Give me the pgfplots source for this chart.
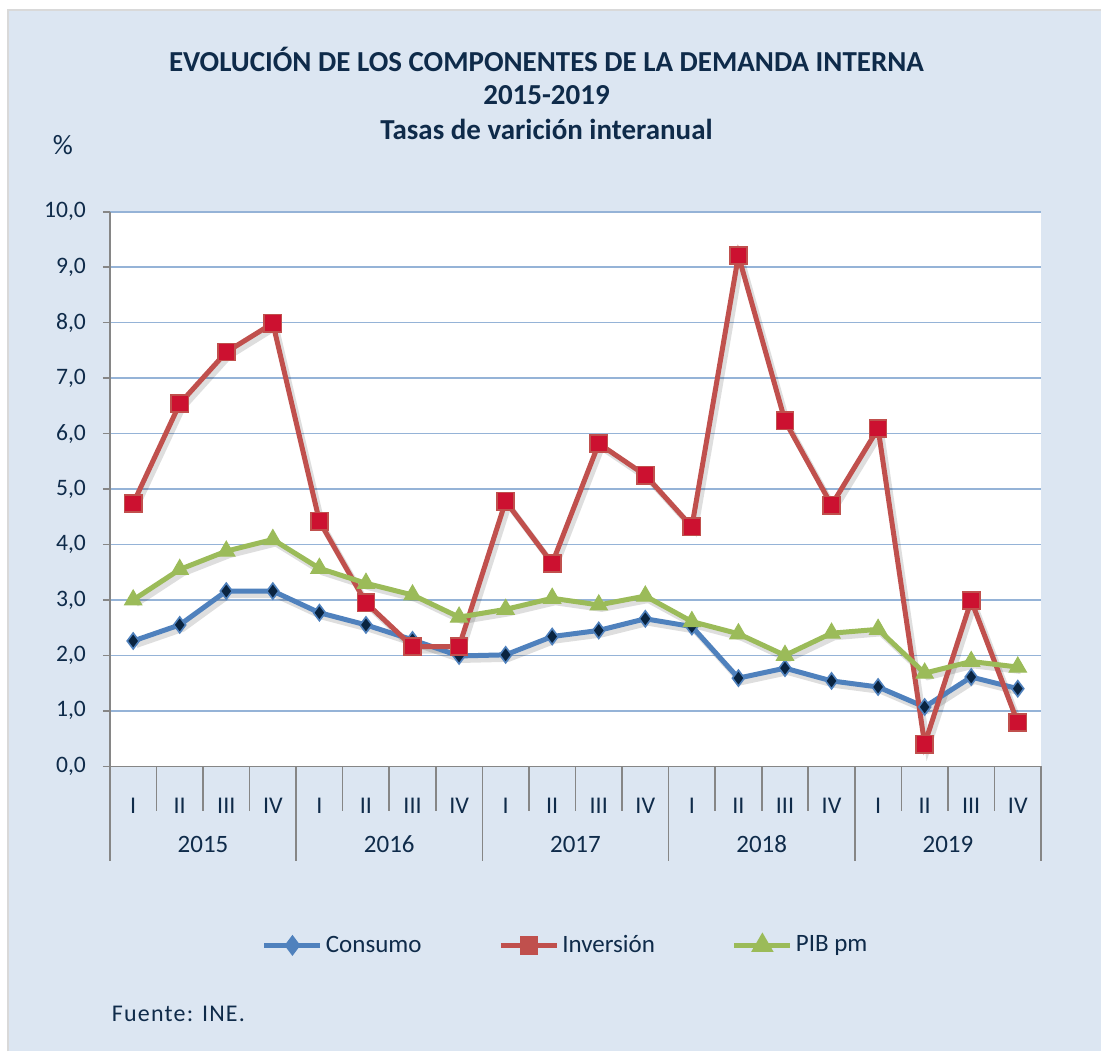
\documentclass[border=0pt]{standalone}
\usepackage{pgfplots}
\pgfplotsset{compat=1.18}
\usepackage{pgfplotstable}
\usepackage{fontspec}
\setmainfont{Carlito}
\definecolor{bgc}{HTML}{DCE6F2}
\definecolor{gridc}{HTML}{95B3D7}
\definecolor{txt}{HTML}{0F2B4A}
\definecolor{axg}{HTML}{868686}
\definecolor{bordc}{HTML}{D9D9D9}
\definecolor{consl}{HTML}{4F81BD}
\definecolor{consm}{HTML}{0A2440}
\definecolor{invl}{HTML}{C0504D}
\definecolor{invm}{HTML}{CC1130}
\definecolor{pibl}{HTML}{9BBB59}

\pgfplotstableread{
x cons inv pib
0  2.26 4.74 3.00
1  2.55 6.54 3.55
2  3.16 7.47 3.88
3  3.16 7.99 4.09
4  2.77 4.42 3.57
5  2.55 2.95 3.30
6  2.28 2.16 3.09
7  1.99 2.16 2.69
8  2.01 4.78 2.83
9  2.34 3.66 3.03
10 2.45 5.82 2.91
11 2.66 5.25 3.07
12 2.52 4.32 2.61
13 1.59 9.21 2.39
14 1.77 6.23 2.00
15 1.54 4.71 2.40
16 1.43 6.09 2.47
17 1.07 0.40 1.68
18 1.61 2.99 1.89
19 1.40 0.79 1.79
}\datatable

\begin{document}
\begin{tikzpicture}
% page and background
\fill[white] (-55pt,-142.5pt) rectangle (496pt,383.5pt);
\fill[bgc] (-51pt,-142.5pt) rectangle (496pt,378.5pt);
\draw[bordc, line width=1pt] (-51pt,-142.5pt) -- (-51pt,378.5pt) -- (496pt,378.5pt);
% titles
\node[txt, font=\fontsize{14.5}{16}\selectfont\bfseries] at (218.5pt,353.5pt) {EVOLUCIÓN DE LOS COMPONENTES DE LA DEMANDA INTERNA};
\node[txt, font=\fontsize{14.5}{16}\selectfont\bfseries] at (218.5pt,336pt) {2015-2019};
\node[txt, font=\fontsize{14.5}{16}\selectfont\bfseries] at (218.5pt,318.5pt) {Tasas de varición interanual};
\node[txt, font=\fontsize{14}{16}\selectfont] at (-23.5pt,311pt) {\%};
\node[txt, font=\fontsize{12}{14}\selectfont\addfontfeatures{LetterSpace=5}, anchor=west] at (-2.5pt,-124pt) {Fuente: INE.};
\begin{axis}[
  at={(0pt,0pt)}, anchor=south west,
  scale only axis, width=466pt, height=277.5pt,
  xmin=-0.5, xmax=19.5, ymin=0, ymax=10,
  clip=false,
  axis background/.style={fill=white},
  axis x line*=bottom, axis y line*=left,
  axis line style={axg, line width=0.8pt},
  ytick={0,1,...,10},
  ymajorgrids, grid style={gridc, line width=0.8pt},
  tick align=outside, major tick length=3.5pt,
  ytick style={axg, line width=0.8pt},
  /pgf/number format/fixed,
  /pgf/number format/fixed zerofill,
  /pgf/number format/precision=1,
  /pgf/number format/use comma,
  /pgf/number format/assume math mode=true,
  yticklabel style={txt, font=\fontsize{11.8}{13}\selectfont, xshift=-5pt},
  xtick={0,...,19},
  xticklabels={I,II,III,IV,I,II,III,IV,I,II,III,IV,I,II,III,IV,I,II,III,IV},
  xtick style={draw=none},
  xticklabel style={txt, font=\fontsize{12}{13}\selectfont, anchor=center, yshift=-16.5pt},
  legend columns=3,
  legend style={draw=none, fill=none, at={(rel axis cs:0.49,-0.323)}, anchor=center,
    font=\fontsize{12.5}{14}\selectfont, text=txt,
    nodes={inner sep=1.5pt},
    /tikz/every even column/.append style={column sep=37pt}},
  legend cell align=left,
  legend image code/.code={\draw[mark repeat=2,mark phase=2, mark options={scale=0.8}] plot coordinates {(0pt,0pt) (14pt,0pt) (28pt,0pt)};},
]
% shadows
\addplot[forget plot, draw=black, opacity=0.13, line width=3pt, xshift=1.5pt, yshift=-2pt] table[x=x,y=cons] {\datatable};
\addplot[forget plot, draw=black, opacity=0.13, line width=3pt, xshift=1.5pt, yshift=-2pt] table[x=x,y=inv] {\datatable};
\addplot[forget plot, draw=black, opacity=0.13, line width=3pt, xshift=1.5pt, yshift=-2pt] table[x=x,y=pib] {\datatable};
% series
\addplot[consl, line width=2.5pt, mark=diamond*, mark size=4pt, mark options={fill=consm, draw=consl, line width=0.8pt}] table[x=x,y=cons] {\datatable};
\addlegendentry{Consumo}
\addplot[invl, line width=2.5pt, mark=square*, mark size=4.3pt, mark options={fill=invm, draw=invl, line width=0.8pt}] table[x=x,y=inv] {\datatable};
\addlegendentry{Inversión}
\addplot[pibl, line width=2.5pt, mark=triangle*, mark size=5pt, mark options={fill=pibl, draw=pibl, line width=0.5pt}] table[x=x,y=pib] {\datatable};
\addlegendentry{PIB pm}
% category separators
\pgfplotsinvokeforeach{0.5,1.5,2.5,4.5,5.5,6.5,8.5,9.5,10.5,12.5,13.5,14.5,16.5,17.5,18.5}{
  \draw[axg, line width=0.8pt] (axis cs:#1,0) -- ++(0pt,-22.5pt);
}
\pgfplotsinvokeforeach{-0.5,3.5,7.5,11.5,15.5,19.5}{
  \draw[axg, line width=0.8pt] (axis cs:#1,0) -- ++(0pt,-47.5pt);
}
\node[txt, font=\fontsize{12.5}{14}\selectfont] at ([yshift=-39pt]axis cs:1.5,0) {2015};
\node[txt, font=\fontsize{12.5}{14}\selectfont] at ([yshift=-39pt]axis cs:5.5,0) {2016};
\node[txt, font=\fontsize{12.5}{14}\selectfont] at ([yshift=-39pt]axis cs:9.5,0) {2017};
\node[txt, font=\fontsize{12.5}{14}\selectfont] at ([yshift=-39pt]axis cs:13.5,0) {2018};
\node[txt, font=\fontsize{12.5}{14}\selectfont] at ([yshift=-39pt]axis cs:17.5,0) {2019};
\end{axis}
\end{tikzpicture}
\end{document}
